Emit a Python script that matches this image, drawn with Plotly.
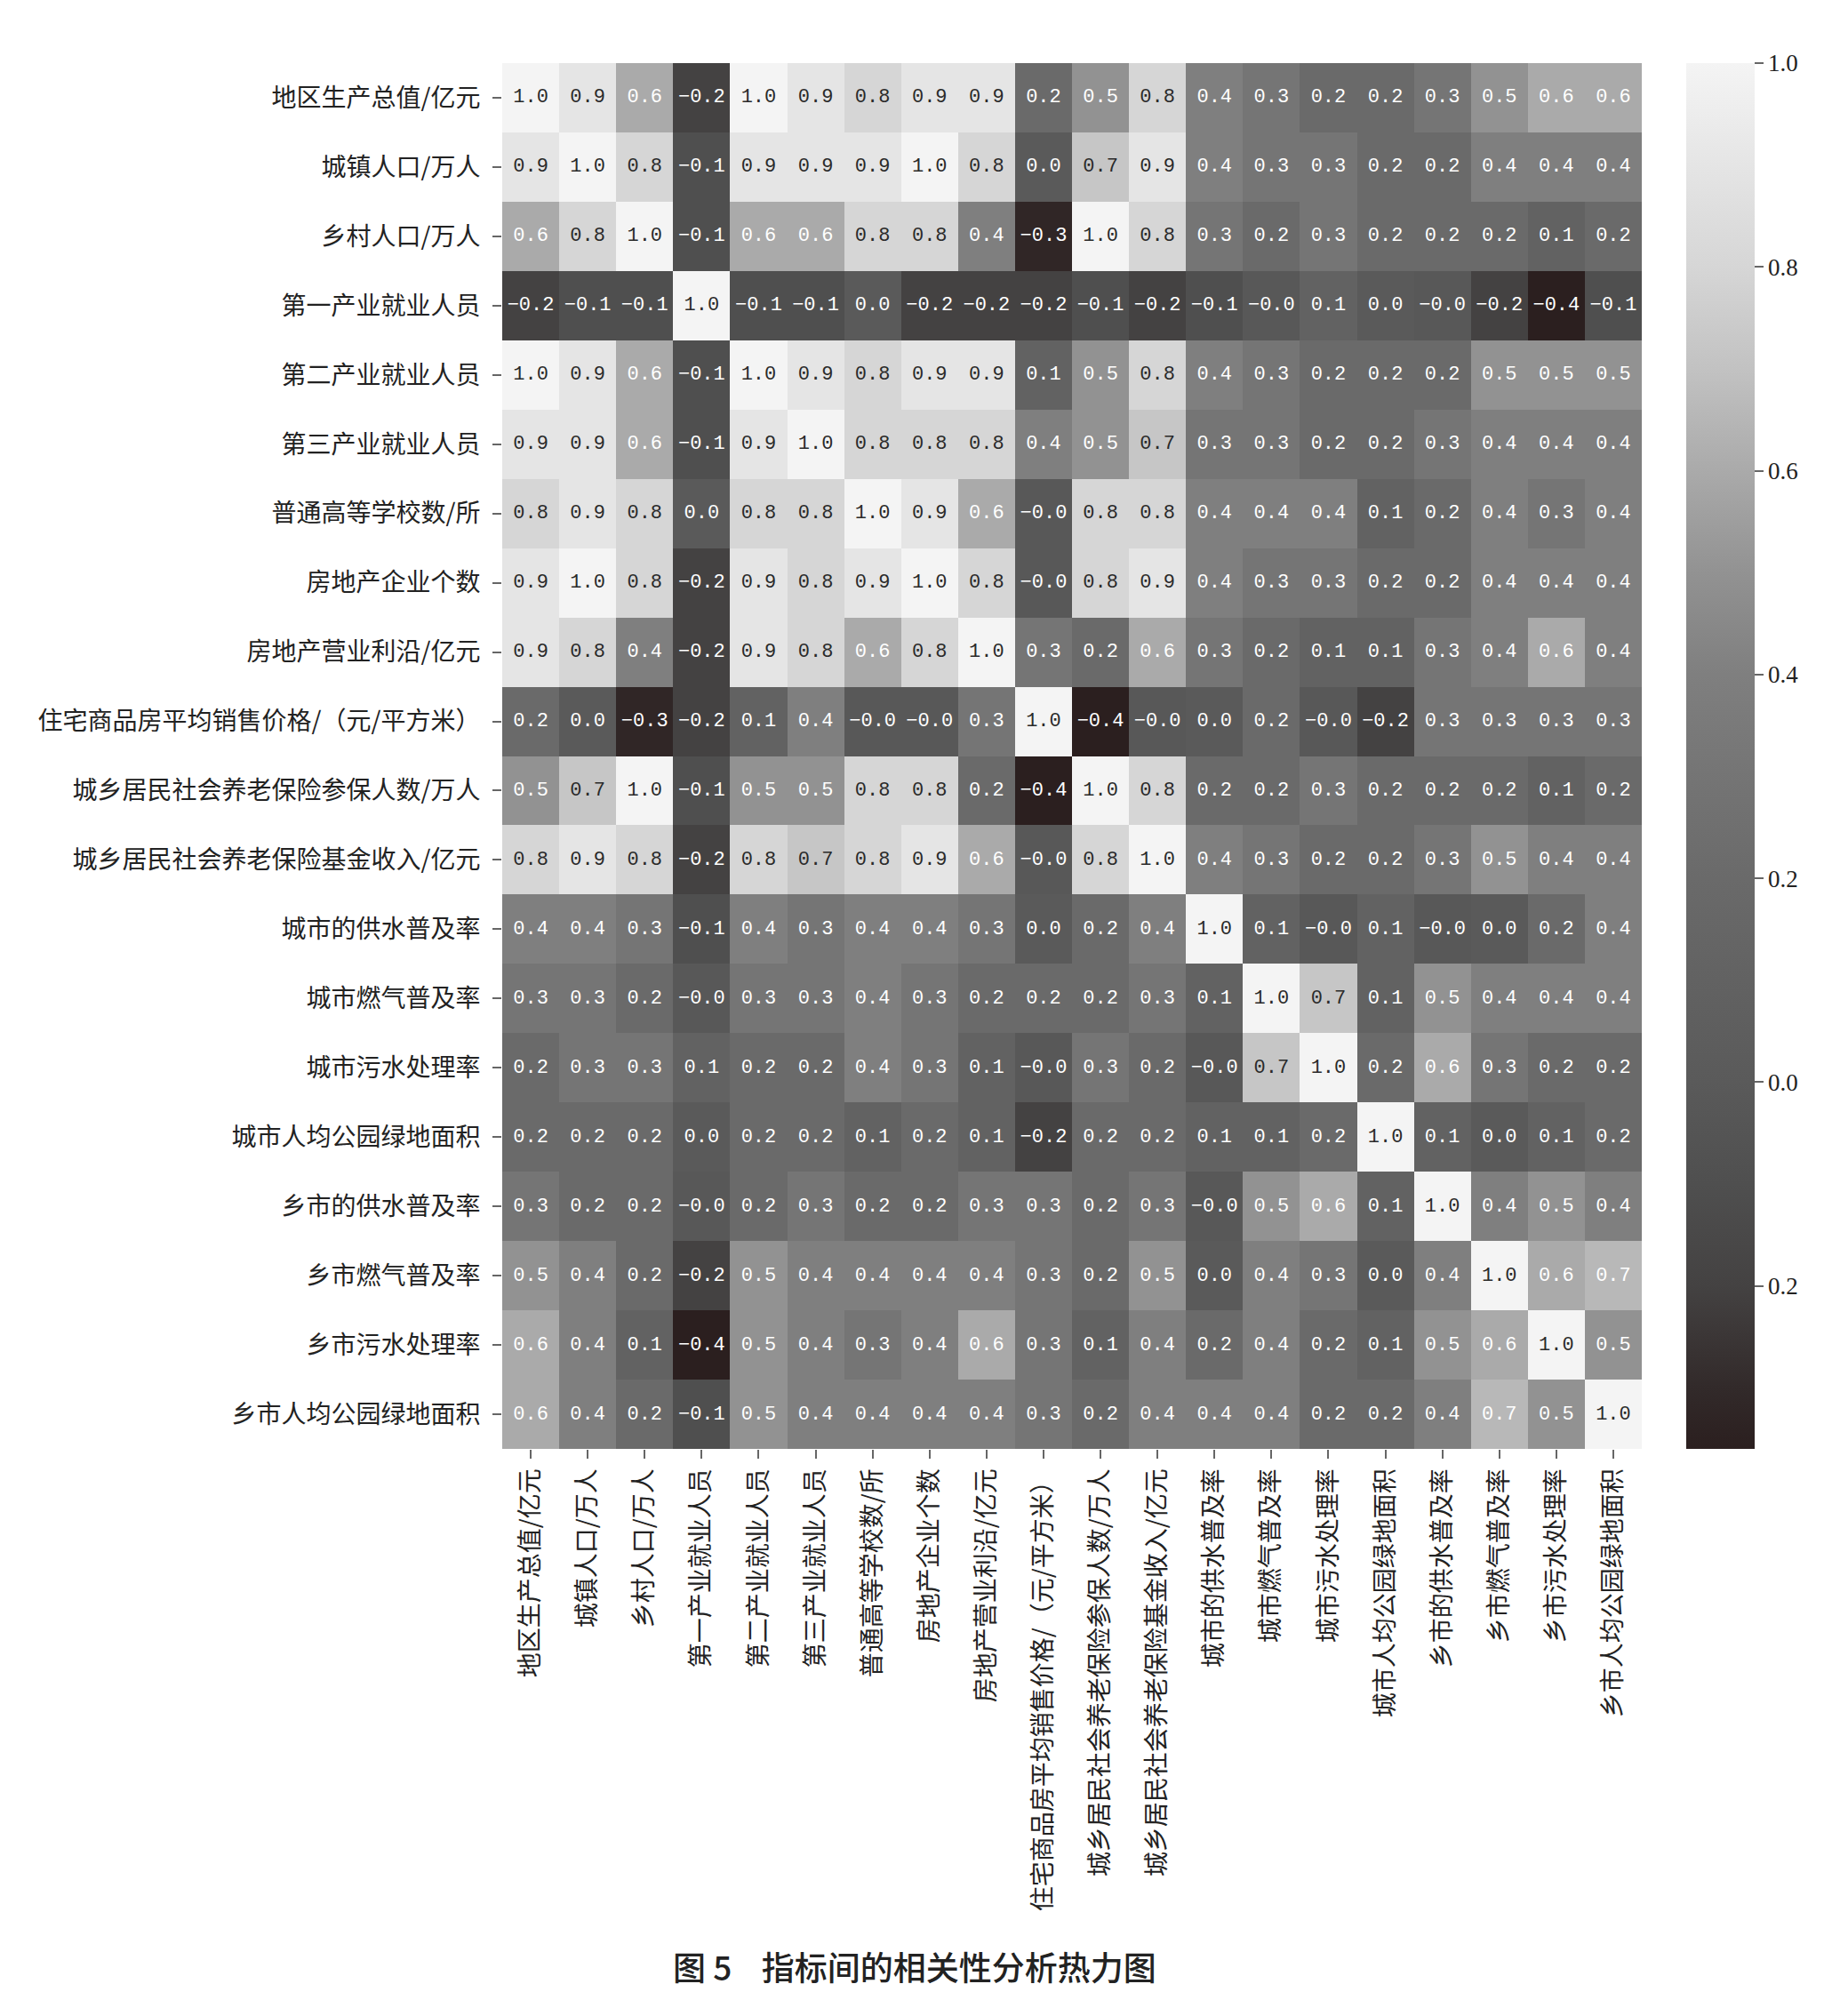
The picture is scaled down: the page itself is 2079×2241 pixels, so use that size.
import plotly.graph_objects as go

labels = [
    "地区生产总值/亿元",
    "城镇人口/万人",
    "乡村人口/万人",
    "第一产业就业人员",
    "第二产业就业人员",
    "第三产业就业人员",
    "普通高等学校数/所",
    "房地产企业个数",
    "房地产营业利沿/亿元",
    "住宅商品房平均销售价格/（元/平方米）",
    "城乡居民社会养老保险参保人数/万人",
    "城乡居民社会养老保险基金收入/亿元",
    "城市的供水普及率",
    "城市燃气普及率",
    "城市污水处理率",
    "城市人均公园绿地面积",
    "乡市的供水普及率",
    "乡市燃气普及率",
    "乡市污水处理率",
    "乡市人均公园绿地面积",
]

r00 = [1.0, 0.9, 0.6, -0.2, 1.0, 0.9, 0.8, 0.9, 0.9, 0.2, 0.5, 0.8, 0.4, 0.3, 0.2, 0.2, 0.3, 0.5, 0.6, 0.6]
r01 = [0.9, 1.0, 0.8, -0.1, 0.9, 0.9, 0.9, 1.0, 0.8, 0.0, 0.72, 0.9, 0.4, 0.3, 0.3, 0.2, 0.2, 0.4, 0.4, 0.4]
r02 = [0.6, 0.8, 1.0, -0.1, 0.6, 0.6, 0.8, 0.8, 0.4, -0.32, 1.0, 0.8, 0.3, 0.2, 0.3, 0.2, 0.2, 0.2, 0.1, 0.2]
r03 = [-0.2, -0.1, -0.1, 1.0, -0.1, -0.1, 0.0, -0.2, -0.2, -0.2, -0.1, -0.2, -0.1, -0.02, 0.1, 0.0, -0.02, -0.2, -0.36, -0.1]
r04 = [1.0, 0.9, 0.6, -0.1, 1.0, 0.9, 0.8, 0.9, 0.9, 0.1, 0.5, 0.8, 0.4, 0.3, 0.2, 0.2, 0.2, 0.5, 0.5, 0.5]
r05 = [0.9, 0.9, 0.6, -0.1, 0.9, 1.0, 0.8, 0.8, 0.8, 0.4, 0.5, 0.72, 0.3, 0.3, 0.2, 0.2, 0.3, 0.4, 0.4, 0.4]
r06 = [0.8, 0.9, 0.8, 0.0, 0.8, 0.8, 1.0, 0.9, 0.6, -0.02, 0.8, 0.8, 0.4, 0.4, 0.4, 0.1, 0.2, 0.4, 0.3, 0.4]
r07 = [0.9, 1.0, 0.8, -0.2, 0.9, 0.8, 0.9, 1.0, 0.8, -0.02, 0.8, 0.9, 0.4, 0.3, 0.3, 0.2, 0.2, 0.4, 0.4, 0.4]
r08 = [0.9, 0.8, 0.4, -0.2, 0.9, 0.8, 0.6, 0.8, 1.0, 0.3, 0.2, 0.6, 0.3, 0.2, 0.1, 0.1, 0.3, 0.4, 0.6, 0.4]
r09 = [0.2, 0.0, -0.32, -0.2, 0.1, 0.4, -0.02, -0.02, 0.3, 1.0, -0.36, -0.02, 0.0, 0.2, -0.02, -0.2, 0.3, 0.3, 0.3, 0.3]
r10 = [0.5, 0.72, 1.0, -0.1, 0.5, 0.5, 0.8, 0.8, 0.2, -0.36, 1.0, 0.8, 0.2, 0.2, 0.3, 0.2, 0.2, 0.2, 0.1, 0.2]
r11 = [0.8, 0.9, 0.8, -0.2, 0.8, 0.72, 0.8, 0.9, 0.6, -0.02, 0.8, 1.0, 0.4, 0.3, 0.2, 0.2, 0.3, 0.5, 0.4, 0.4]
r12 = [0.4, 0.4, 0.3, -0.1, 0.4, 0.3, 0.4, 0.4, 0.3, 0.0, 0.2, 0.4, 1.0, 0.1, -0.02, 0.1, -0.02, 0.0, 0.2, 0.4]
r13 = [0.3, 0.3, 0.2, -0.02, 0.3, 0.3, 0.4, 0.3, 0.2, 0.2, 0.2, 0.3, 0.1, 1.0, 0.72, 0.1, 0.5, 0.4, 0.4, 0.4]
r14 = [0.2, 0.3, 0.3, 0.1, 0.2, 0.2, 0.4, 0.3, 0.1, -0.02, 0.3, 0.2, -0.02, 0.72, 1.0, 0.2, 0.6, 0.3, 0.2, 0.2]
r15 = [0.2, 0.2, 0.2, 0.0, 0.2, 0.2, 0.1, 0.2, 0.1, -0.2, 0.2, 0.2, 0.1, 0.1, 0.2, 1.0, 0.1, 0.0, 0.1, 0.2]
r16 = [0.3, 0.2, 0.2, -0.02, 0.2, 0.3, 0.2, 0.2, 0.3, 0.3, 0.2, 0.3, -0.02, 0.5, 0.6, 0.1, 1.0, 0.4, 0.5, 0.4]
r17 = [0.5, 0.4, 0.2, -0.2, 0.5, 0.4, 0.4, 0.4, 0.4, 0.3, 0.2, 0.5, 0.0, 0.4, 0.3, 0.0, 0.4, 1.0, 0.6, 0.66]
r18 = [0.6, 0.4, 0.1, -0.36, 0.5, 0.4, 0.3, 0.4, 0.6, 0.3, 0.1, 0.4, 0.2, 0.4, 0.2, 0.1, 0.5, 0.6, 1.0, 0.5]
r19 = [0.6, 0.4, 0.2, -0.1, 0.5, 0.4, 0.4, 0.4, 0.4, 0.3, 0.2, 0.4, 0.4, 0.4, 0.2, 0.2, 0.4, 0.66, 0.5, 1.0]

matrix = [r00, r01, r02, r03, r04, r05, r06, r07, r08, r09,
          r10, r11, r12, r13, r14, r15, r16, r17, r18, r19]

cbar_vals = [1.0, 0.8, 0.6, 0.4, 0.2, 0.0, -0.2]
cbar_text = ["1.0", "0.8", "0.6", "0.4", "0.2", "0.0", "0.2"]

caption = "图 5    指标间的相关性分析热力图"

ZMIN, ZMAX = -0.36, 1.0


def t(v):
    return (v - ZMIN) / (ZMAX - ZMIN)


colorscale = [
    [t(-0.36), "#2b1f1f"],
    [t(-0.3), "#322a2a"],
    [t(-0.2), "#444242"],
    [t(-0.1), "#4f4f4f"],
    [t(0.0), "#5a5a5a"],
    [t(0.2), "#6a6a6a"],
    [t(0.4), "#7f7f7f"],
    [t(0.5), "#929292"],
    [t(0.6), "#aaaaaa"],
    [t(0.7), "#c2c2c2"],
    [t(0.8), "#d6d6d6"],
    [t(0.9), "#e5e5e5"],
    [t(1.0), "#f4f4f4"],
]

n = len(labels)

fig = go.Figure()
fig.add_trace(go.Heatmap(
    z=matrix, x=labels, y=labels,
    zmin=ZMIN, zmax=ZMAX, colorscale=colorscale,
    xgap=0, ygap=0, hoverinfo="skip",
    colorbar=dict(
        thickness=77, thicknessmode="pixels",
        len=1, lenmode="fraction", y=0.5, yanchor="middle",
        x=1.039, xanchor="left", xpad=0, ypad=0,
        outlinewidth=0,
        tickmode="array", tickvals=cbar_vals, ticktext=cbar_text,
        ticks="outside", ticklen=10, tickwidth=2, tickcolor="#666",
        tickfont=dict(family="Liberation Serif", size=27, color="#222"),
    ),
))

tx, ty, tt, tc = [], [], [], []
for i, row in enumerate(matrix):
    for j, v in enumerate(row):
        tx.append(labels[j])
        ty.append(labels[i])
        tt.append(f"{v:.1f}".replace("-", "−"))
        tc.append("#2a2a2a" if v >= 0.68 else "#ffffff")

fig.add_trace(go.Scatter(
    x=tx, y=ty, text=tt, mode="text",
    textfont=dict(family="Liberation Mono", size=22, color=tc),
    hoverinfo="skip", showlegend=False,
))

fig.update_layout(
    width=2079, height=2241,
    margin=dict(l=557, r=240, t=63, b=619, autoexpand=False),
    paper_bgcolor="white", plot_bgcolor="white",
    showlegend=False,
    xaxis=dict(
        type="category", tickangle=-90, showgrid=False, zeroline=False,
        range=[-0.5, n - 0.5], autorange=False,
        ticks="outside", ticklen=10, tickwidth=2, tickcolor="#666",
        tickfont=dict(family="Noto Sans CJK SC", size=28, color="#222"),
        showline=False, automargin=False,
    ),
    yaxis=dict(
        type="category", showgrid=False, zeroline=False,
        range=[n - 0.5, -0.5], autorange=False,
        ticks="outside", ticklen=10, tickwidth=2, tickcolor="#666",
        ticklabelstandoff=8,
        tickfont=dict(family="Noto Sans CJK SC", size=28, color="#222"),
        showline=False, automargin=False,
    ),
    annotations=[dict(
        text=caption, xref="paper", yref="paper",
        x=0.362, y=-0.3735, xanchor="center", yanchor="middle",
        showarrow=False,
        font=dict(family="Noto Sans CJK SC", size=37, color="#222", weight=500),
    )],
)

fig.write_html("out.html")
